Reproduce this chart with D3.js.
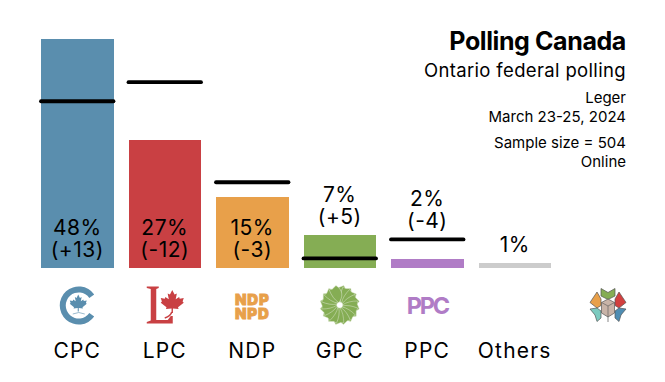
<!DOCTYPE html>
<html><head><meta charset="utf-8">
<script src="https://cdn.jsdelivr.net/npm/d3@7"></script>
<style>html,body{margin:0;padding:0;background:#fff}svg{display:block}text{font-family:Inter,"Noto Sans",sans-serif;fill:#000}</style>
</head><body><svg id="c" width="665" height="382"></svg>
<script>
const parties=["CPC","LPC","NDP","GPC","PPC","Others"];
const shares=[48,27,15,7,2,1];
const changes=[13,-12,-3,5,-4,null];
const colors=["#5a8eae","#c94043","#e8a04a","#85ad54","#b07cc6","#cccccc"];
const infoLines=[["Leger",103],["March 23-25, 2024",122],["Sample size = 504",148],["Online",167]];

const svg=d3.select("#c");
const x=d3.scaleBand().domain(parties).range([41,551]).paddingInner(15/87.5).paddingOuter(0);
const y=d3.scaleLinear().domain([0,48]).range([268,39.3]);
const rows=parties.map((p,i)=>({p,v:shares[i],c:changes[i],col:colors[i],prev:changes[i]==null?null:shares[i]-changes[i]}));
const fmt=c=>"("+(c>0?"+":"")+c+")";
const snapY=v=>Math.round(y(v)+0.15);
const left=d=>Math.round(x(d.p)), right=d=>Math.round(x(d.p)+x.bandwidth());

svg.selectAll("rect.bar").data(rows).join("rect").attr("class","bar")
 .attr("x",left).attr("width",d=>right(d)-left(d)).attr("y",d=>snapY(d.v)).attr("height",d=>y(0)-snapY(d.v)).attr("fill",d=>d.col);

svg.selectAll("line.prev").data(rows.filter(d=>d.prev!=null)).join("line").attr("class","prev")
 .attr("x1",d=>x(d.p)).attr("x2",d=>x(d.p)+x.bandwidth()).attr("y1",d=>y(d.prev)).attr("y2",d=>y(d.prev))
 .attr("stroke","#000").attr("stroke-width",3.8).attr("stroke-linecap","round");

const lab=svg.append("g").attr("text-anchor","middle").style("font-size","21px").style("letter-spacing","0.5px");
rows.forEach(d=>{
  const cx=x(d.p)+x.bandwidth()/2;
  let b1,b2;
  if(d.v>=15){b1=235;b2=257;}
  else if(d.c==null){b1=y(d.v)-11;}
  else{const top=Math.min(y(d.v),y(d.prev));b1=top-33;b2=top-11;}
  lab.append("text").attr("x",cx).attr("y",b1).text(d.v+"%");
  if(d.c!=null)lab.append("text").attr("x",cx).attr("y",b2).text(fmt(d.c));
});

svg.append("g").attr("text-anchor","middle").style("font-size","21px").style("letter-spacing","1.2px")
 .selectAll("text").data(rows).join("text").attr("x",d=>x(d.p)+x.bandwidth()/2).attr("y",358).text(d=>d.p);

const r=svg.append("g").attr("text-anchor","end");
r.append("text").attr("x",626).attr("y",50).style("font-size","25px").style("font-weight",700).style("letter-spacing","-0.4px").text("Polling Canada");
r.append("text").attr("x",626).attr("y",77).style("font-size","18.5px").style("letter-spacing","0.35px").text("Ontario federal polling");
r.selectAll("text.i").data(infoLines).join("text").attr("class","i").attr("x",626).attr("y",d=>d[1]).style("font-size","15px").text(d=>d[0]);

// logo artwork
const leaf="M0,-10 L2,-6 L4,-7 L3,-2 L6,-4 L6.5,-2.5 L10,-3 L9,0 L10,1 L5,5 L5.5,6.5 L0.6,6 L0.6,10 L-0.6,10 L-0.6,6 L-5.5,6.5 L-5,5 L-10,1 L-9,0 L-10,-3 L-6.5,-2.5 L-6,-4 L-3,-2 L-4,-7 L-2,-6 Z";
const cxOf=p=>x(p)+x.bandwidth()/2;
const LY=305;
// CPC
(()=>{const g=svg.append("g").attr("transform",`translate(${cxOf("CPC")+1.5},${LY+0.5})`),col=colors[0];
 g.append("path").attr("d",d3.arc()({innerRadius:13,outerRadius:19,startAngle:Math.PI/2+0.62,endAngle:2.5*Math.PI-0.62})).attr("fill",col);
 g.append("path").attr("d",leaf).attr("transform","translate(-0.5,-2.5) scale(.85)").attr("fill",col);
 g.append("path").attr("d","M-6,8.5 Q0,5.5 6,8.5").attr("fill","none").attr("stroke",col).attr("stroke-width",1).attr("opacity",.6);
})();
// LPC
(()=>{const g=svg.append("g").attr("transform",`translate(${cxOf("LPC")},${LY})`),col=colors[1];
 g.append("path").attr("d","M-18,-18.5 H-6 V-17 L-8.5,-16 V15 H3 L6,11 H8 V18.5 H-18 V17 L-14,15.5 V-16 L-18,-17 Z").attr("fill",col);
 g.append("path").attr("d",leaf).attr("transform","translate(7.5,-3.5) scale(1.15)").attr("fill",col);
 g.append("path").attr("d","M7,7 Q6,11 0,13").attr("fill","none").attr("stroke",col).attr("stroke-width",1.5);
})();
// NDP
(()=>{const g=svg.append("g").attr("text-anchor","middle").attr("transform",`translate(${cxOf("NDP")},${LY})`);
 ["NDP","NPD"].forEach((t,i)=>g.append("text").attr("x",0).attr("y",i?14:-0.5).text(t).style("fill",colors[2]).style("stroke",colors[2]).style("stroke-width",0.8).style("font-size","15px").style("font-weight",900).style("letter-spacing","0.8px"));
})();
// GPC
(()=>{const g=svg.append("g").attr("transform",`translate(${cxOf("GPC")},${LY})`),col=colors[3];
 d3.range(16).forEach(i=>g.append("path").attr("d","M0,-2.5 C6,-6 9,-12 4,-19.5 L-1,-17.5 L-4,-18 C-4,-12 -3,-7 0,-2.5 Z").attr("transform",`rotate(${i*22.5})`).attr("fill",col).attr("stroke","#dfe9d2").attr("stroke-width",0.45));
 g.append("circle").attr("r",2.6).attr("fill","#fff");
})();
// PPC
(()=>{const g=svg.append("g").attr("text-anchor","middle").attr("transform",`translate(${cxOf("PPC")},${LY})`);
 g.append("text").attr("x",0).attr("y",9).text("PPC").style("fill",colors[4]).style("font-size","23.5px").style("font-weight",700).style("letter-spacing","-2.2px");
})();
// Polling Canada mark
(()=>{const g=svg.append("g").attr("transform","translate(608,305)");
 const parts=[
  ["#85ad54","M-7,-16.5 L0,-12.5 L7,-16.5 L7,-9 L0,-5.5 L-7,-9 Z"],
  ["#e8a04a","M-18,-2.5 L-11,-13 L-7,-6 L-7,0.5 L-11,3 Z"],
  ["#d2403f","M18,-2.5 L11,-13 L7,-6 L7,0.5 L11,3 Z"],
  ["#7ccabf","M-18,4 L-11,3 L-7,6 L-7,13 L-11,16.5 L-13,10 Z"],
  ["#4f8db3","M18,4 L11,3 L7,6 L7,13 L11,16.5 L13,10 Z"]];
 parts.forEach(p=>g.append("path").attr("d",p[1]).attr("fill",p[0]).attr("stroke","#555").attr("stroke-width",0.7));
 g.append("path").attr("d","M0,-6 L6.5,-2.5 V8 L0,12 L-6.5,8 V-2.5 Z").attr("fill","#c9b4a8").attr("stroke","#555").attr("stroke-width",0.7);
 g.append("path").attr("d","M-6.5,-2.5 L0,1 L6.5,-2.5 M0,1 V12").attr("fill","none").attr("stroke","#555").attr("stroke-width",0.6);
 g.append("path").attr("d","M0,12 V17").attr("stroke","#888").attr("stroke-width",1);
})();
</script></body></html>
